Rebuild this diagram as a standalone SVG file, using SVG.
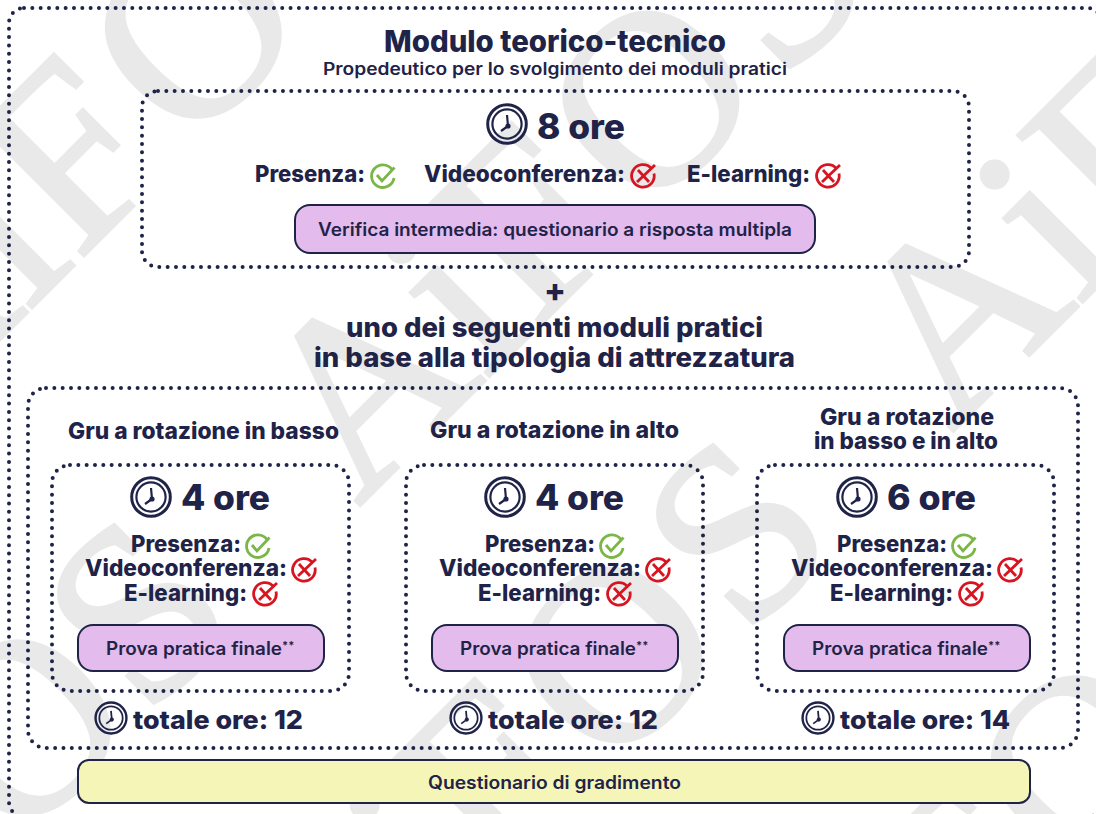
<svg xmlns="http://www.w3.org/2000/svg" width="1096" height="814" viewBox="0 0 1096 814">
<style>
text{font-family:"Inter","Liberation Sans",sans-serif;fill:#1f2348;font-weight:700}
text.wm{font-family:"Liberation Serif",serif;font-size:250px;fill:#e9e9e9;stroke:#e9e9e9;stroke-width:3.5px;font-weight:400}
.dot{fill:none;stroke:#1f2348;stroke-width:4;stroke-linecap:round;stroke-dasharray:0 8.33}
.pill{fill:#e3bbec;stroke:#1f2348;stroke-width:2}
.s{font-size:18px;font-weight:600}
.m{font-size:23px;font-weight:800}
.h{font-size:35px;font-weight:800}
.t{font-size:26px;font-weight:800}
.a{font-size:11px;font-weight:700}
</style>
<defs>
<g id="clock" fill="none" stroke="#1f2348"><circle r="19.3" stroke-width="3"/><circle r="14.6" stroke-width="2.2"/><path d="M1 2 L0 -9 M1 2 L-6 7" stroke-width="2.2"/><circle cx="1" cy="2" r="2.6" fill="#1f2348" stroke="none"/></g>
<g id="ok" fill="none" stroke="#7ab648" stroke-width="2.8"><path d="M9 -6.500A11.300 11.300 0 1 0 11 2"/><path d="M-6 -1L-1 5L11.500 -8.500"/></g>
<g id="no" fill="none" stroke="#d7141f" stroke-width="2.8"><path d="M8.500 -7.500A11.300 11.300 0 1 0 11 -2.500"/><path d="M-5 -6L6 6M-6 6L12 -11"/></g>
</defs>
<rect width="1096" height="814" fill="#fff"/>
<g id="watermark" transform="rotate(-45)">
<text class="wm" x="-380 -200 -130 25 219" y="240">AiFOS</text>
<text class="wm" x="541 721 791 946 1140" y="240">AiFOS</text>
<text class="wm" x="-994 -814 -744 -589 -405" y="612">AiFOS</text>
<text class="wm" x="-105 75 145 300 494" y="612">AiFOS</text>
<text class="wm" x="-524 -344 -274 -119 75" y="979">AiFOS</text>
<text class="wm" x="367 547 617 772 966" y="979">AiFOS</text>
<text class="wm" x="-262 -82 -12 133 339" y="1385">AiFOS</text>
</g>
<g id="frames">
<rect class="dot" x="9" y="8" width="1093" height="809" rx="15"/>
<rect class="dot" x="28" y="388" width="1050" height="360" rx="18"/>
</g>
<g id="title">
<text x="384" y="52" style="font-size:30px;font-weight:800" textLength="342" lengthAdjust="spacingAndGlyphs">Modulo teorico-tecnico</text>
<text x="323" y="75" style="font-size:17px;font-weight:600" textLength="464" lengthAdjust="spacingAndGlyphs">Propedeutico per lo svolgimento dei moduli pratici</text>
</g>
<g id="theory">
<rect class="dot" x="142" y="91" width="827" height="176" rx="16"/>
<use href="#clock" x="507" y="124"/>
<text class="h" x="537" y="139" textLength="88" lengthAdjust="spacingAndGlyphs">8 ore</text>
<text class="m" x="255" y="182" textLength="110" lengthAdjust="spacingAndGlyphs">Presenza:</text>
<use href="#ok" x="383" y="176"/>
<text class="m" x="424" y="182" textLength="201" lengthAdjust="spacingAndGlyphs">Videoconferenza:</text>
<use href="#no" x="643" y="176"/>
<text class="m" x="687" y="182" textLength="123" lengthAdjust="spacingAndGlyphs">E-learning:</text>
<use href="#no" x="828" y="176"/>
<rect class="pill" x="295" y="205" width="520" height="48" rx="15"/>
<text class="s" x="318" y="236" textLength="474" lengthAdjust="spacingAndGlyphs">Verifica intermedia: questionario a risposta multipla</text>
</g>
<g id="joiner">
<text x="555" y="302" text-anchor="middle" style="font-size:32px;font-weight:800">+</text>
<text class="m" style="font-size:27px" x="346" y="337" textLength="417" lengthAdjust="spacingAndGlyphs">uno dei seguenti moduli pratici</text>
<text class="m" style="font-size:27px" x="314" y="367" textLength="481" lengthAdjust="spacingAndGlyphs">in base alla tipologia di attrezzatura</text>
</g>
<g id="col1">
<text class="m" x="68" y="439" textLength="271" lengthAdjust="spacingAndGlyphs">Gru a rotazione in basso</text>
<rect class="dot" x="52" y="465" width="297" height="226" rx="18"/>
<use href="#clock" x="151" y="497"/>
<text class="h" x="181" y="510" textLength="89" lengthAdjust="spacingAndGlyphs">4 ore</text>
<text class="m" x="131" y="552" textLength="110" lengthAdjust="spacingAndGlyphs">Presenza:</text><use href="#ok" x="258" y="546"/>
<text class="m" x="85" y="576" textLength="202" lengthAdjust="spacingAndGlyphs">Videoconferenza:</text><use href="#no" x="304" y="570"/>
<text class="m" x="124" y="601" textLength="123" lengthAdjust="spacingAndGlyphs">E-learning:</text><use href="#no" x="265" y="594"/>
<rect class="pill" x="78" y="625" width="246" height="46" rx="15"/>
<text class="s" x="106" y="655"><tspan textLength="176" lengthAdjust="spacingAndGlyphs">Prova pratica finale</tspan><tspan class="a" dy="-6">**</tspan></text>
<use href="#clock" transform="translate(111 718) scale(.8)"/>
<text class="t" x="133" y="729" textLength="170" lengthAdjust="spacingAndGlyphs">totale ore: 12</text>
</g>
<g id="col2">
<text class="m" x="430" y="438" textLength="249" lengthAdjust="spacingAndGlyphs">Gru a rotazione in alto</text>
<rect class="dot" x="406" y="465" width="297" height="226" rx="18"/>
<use href="#clock" x="505" y="497"/>
<text class="h" x="535" y="510" textLength="89" lengthAdjust="spacingAndGlyphs">4 ore</text>
<text class="m" x="485" y="552" textLength="110" lengthAdjust="spacingAndGlyphs">Presenza:</text><use href="#ok" x="612" y="546"/>
<text class="m" x="439" y="576" textLength="202" lengthAdjust="spacingAndGlyphs">Videoconferenza:</text><use href="#no" x="658" y="570"/>
<text class="m" x="478" y="601" textLength="123" lengthAdjust="spacingAndGlyphs">E-learning:</text><use href="#no" x="619" y="594"/>
<rect class="pill" x="432" y="625" width="246" height="46" rx="15"/>
<text class="s" x="460" y="655"><tspan textLength="176" lengthAdjust="spacingAndGlyphs">Prova pratica finale</tspan><tspan class="a" dy="-6">**</tspan></text>
<use href="#clock" transform="translate(466 718) scale(.8)"/>
<text class="t" x="488" y="729" textLength="170" lengthAdjust="spacingAndGlyphs">totale ore: 12</text>
</g>
<g id="col3">
<text class="m" x="820" y="425" textLength="174" lengthAdjust="spacingAndGlyphs">Gru a rotazione</text>
<text class="m" x="814" y="449" textLength="184" lengthAdjust="spacingAndGlyphs">in basso e in alto</text>
<rect class="dot" x="757" y="465" width="297" height="226" rx="18"/>
<use href="#clock" x="857" y="497"/>
<text class="h" x="887" y="510" textLength="89" lengthAdjust="spacingAndGlyphs">6 ore</text>
<text class="m" x="837" y="552" textLength="110" lengthAdjust="spacingAndGlyphs">Presenza:</text><use href="#ok" x="964" y="546"/>
<text class="m" x="791" y="576" textLength="202" lengthAdjust="spacingAndGlyphs">Videoconferenza:</text><use href="#no" x="1010" y="570"/>
<text class="m" x="830" y="601" textLength="123" lengthAdjust="spacingAndGlyphs">E-learning:</text><use href="#no" x="971" y="594"/>
<rect class="pill" x="784" y="625" width="246" height="46" rx="15"/>
<text class="s" x="812" y="655"><tspan textLength="176" lengthAdjust="spacingAndGlyphs">Prova pratica finale</tspan><tspan class="a" dy="-6">**</tspan></text>
<use href="#clock" transform="translate(818 718) scale(.8)"/>
<text class="t" x="840" y="729" textLength="170" lengthAdjust="spacingAndGlyphs">totale ore: 14</text>
</g>
<g id="survey">
<rect x="78" y="760" width="952" height="43" rx="11" fill="#f5f5b8" stroke="#1f2348" stroke-width="2"/>
<text class="s" x="428" y="789" textLength="253" lengthAdjust="spacingAndGlyphs">Questionario di gradimento</text>
</g>
</svg>
